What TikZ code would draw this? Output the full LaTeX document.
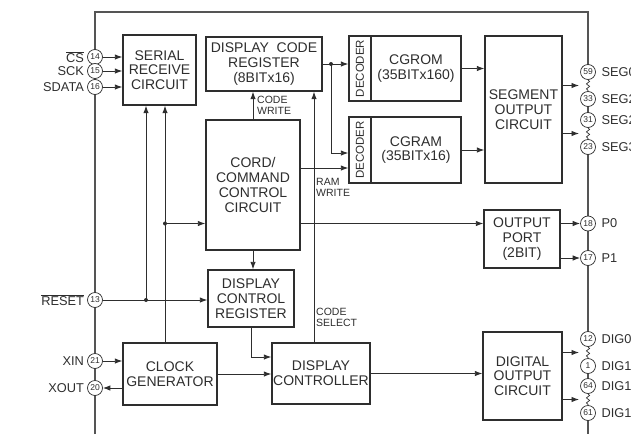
\documentclass[tikz,border=0pt]{standalone}
\usepackage{fontspec}
\setmainfont{Liberation Sans}
\usetikzlibrary{arrows.meta,positioning,calc,decorations.pathmorphing,backgrounds}
\definecolor{ink}{HTML}{2E2E2E}
\definecolor{framegray}{HTML}{555555}
\tikzset{
  blk/.style={draw=ink, line width=1.4pt, fill=white, align=center, inner sep=0pt, text=ink, font=\fontsize{14}{14.8}\selectfont},
  dec/.style={blk, minimum width=22pt, font=\fontsize{11.5}{12}\selectfont},
  ar/.style={-{Latex[length=7.5pt,width=5.5pt]}, line width=.9pt, draw=ink},
  pinc/.style={circle, draw=ink, line width=.7pt, fill=white, minimum size=15pt, inner sep=0pt, text=ink, font=\fontsize{8.5}{8.5}\selectfont},
  pinlbl/.style={text=ink, inner sep=1pt, font=\fontsize{12.8}{13}\selectfont},
  lbl/.style={text=ink, align=left, inner sep=0pt, font=\fontsize{10.5}{11}\selectfont},
  frm/.style={draw=framegray, line width=2pt},
  brk/.style={draw=ink, line width=.7pt, decorate, decoration={snake, amplitude=1.6pt, segment length=5pt}},
}

\begin{document}
\begin{tikzpicture}[x=1pt,y=-1pt]
  \useasboundingbox (0,0) rectangle (631,434);
  % pins on the package edge
  \foreach \n/\y/\t in {14/57/{$\overline{\hbox{CS}}$}, 15/71/SCK, 16/87/SDATA, 13/300/{$\overline{\hbox{RESET}}$}, 21/361/XIN, 20/388/XOUT}{
    \node[pinc] (p\n) at (95,\y) {\n};
    \node[pinlbl, left=2pt of p\n] (t\n) {\t};
  }
  \foreach \n/\y/\t in {59/72/SEG0, 33/99/SEG2, 31/120/SEG2, 23/147/SEG3, 18/223.5/P0, 17/258/P1, 12/339/DIG0, 1/366/DIG1, 64/386/DIG1, 61/413/DIG1}{
    \node[pinc] (p\n) at (588,\y) {\n};
    \node[pinlbl, right=4.5pt of p\n] (t\n) {\t};
  }
  \begin{scope}[on background layer]
    \draw[frm] (95,434) -- (95,12) -- (588,12) -- (p59.center);
    \draw[frm] (p33.center) -- (p31.center);
    \draw[frm] (p23.center) -- (p12.center);
    \draw[frm] (p1.center) -- (p64.center);
    \draw[frm] (p61.center) -- (588,434);
  \end{scope}
  \draw[brk] (p59.south) -- (p33.north);
  \draw[brk] (p31.south) -- (p23.north);
  \draw[brk] (p12.south) -- (p1.north);
  \draw[brk] (p64.south) -- (p61.north);

  % blocks
  \node[blk, minimum width=73pt, minimum height=70pt] (src) at (159.5,70) {SERIAL\\RECEIVE\\CIRCUIT};
  \node[blk, minimum width=116pt, minimum height=54pt] (dcr) at (264,64) {DISPLAY\ \ CODE\\REGISTER\\(8BITx16)};
  \node[dec, minimum height=65pt] (romdec) at (360,68.5) {\rotatebox{90}{DECODER}};
  \node[blk, minimum width=90pt, minimum height=65pt] (rom) at (416,68.5) {CGROM\\(35BITx160)};
  \node[dec, minimum height=66pt] (ramdec) at (360,150) {\rotatebox{90}{DECODER}};
  \node[blk, minimum width=90pt, minimum height=66pt] (ram) at (416,150) {CGRAM\\(35BITx16)};
  \node[blk, minimum width=77pt, minimum height=147pt] (seg) at (523.5,109.5) {SEGMENT\\OUTPUT\\CIRCUIT};
  \node[blk, minimum width=94pt, minimum height=130pt] (ccc) at (253,185) {CORD/\\COMMAND\\CONTROL\\CIRCUIT};
  \node[blk, minimum width=76pt, minimum height=58pt] (opt) at (522,239) {OUTPUT\\PORT\\(2BIT)};
  \node[blk, minimum width=86pt, minimum height=57pt] (dcreg) at (251,298.5) {DISPLAY\\CONTROL\\REGISTER};
  \node[blk, minimum width=94pt, minimum height=62pt] (clk) at (170,374) {CLOCK\\GENERATOR};
  \node[blk, minimum width=98pt, minimum height=61pt] (dctl) at (321,373.5) {DISPLAY\\CONTROLLER};
  \node[blk, minimum width=79pt, minimum height=88pt] (dig) at (522.5,376) {DIGITAL\\OUTPUT\\CIRCUIT};

  \node[lbl, anchor=west] (cwr) at (257,105) {CODE\\WRITE};
  \node[lbl, anchor=west] (rwr) at (316,187) {RAM\\WRITE};
  \node[lbl, anchor=west] (csel) at (316,317) {CODE\\SELECT};

  % branch points
  \coordinate (j1) at (146,300);
  \coordinate (j2) at (165,223.5);
  \coordinate (j3) at (331,64);
  \coordinate (s1) at ($(p59)!.5!(p33)$);
  \coordinate (s2) at ($(p31)!.5!(p23)$);
  \coordinate (s3) at ($(p12)!.5!(p1)$);
  \coordinate (s4) at ($(p64)!.5!(p61)$);

  % connections
  \foreach \n in {14,15,16}
    \draw[ar] (p\n.east) -- (p\n -| src.west);
  \draw[ar] (p13.east) -- (p13 -| dcreg.west);
  \draw[ar] (j1) -- (j1 |- src.south);
  \draw[ar] (clk.north -| j2) -- (j2 |- src.south);
  \draw[ar] (j2) -- (j2 -| ccc.west);
  \draw[ar] (ccc.east |- j2) -- (j2 -| opt.west);
  \draw[ar] (p21.east) -- (p21 -| clk.west);
  \draw[ar] (p20 -| clk.west) -- (p20.east);
  \draw[ar] (clk) -- (clk -| dctl.west);
  \draw[ar] (dcreg.south) |- ([yshift=16.5pt]dctl.west);
  \draw[ar] (dctl) -- (dctl -| dig.west);
  \draw[ar] (ccc.south) -- (ccc.south |- dcreg.north);
  \draw[ar] (ccc.north) -- (ccc.north |- dcr.south);
  \draw[ar] ([xshift=-7pt]dctl.north) -- ([xshift=-7pt]dctl.north |- dcr.south);
  \draw[ar] (dcr.east) -- (dcr.east -| romdec.west);
  \draw[ar] (j3) |- ([yshift=-3pt]ramdec.west);
  \draw[ar] ([yshift=-18pt]ramdec.west -| ccc.east) -- ([yshift=-18pt]ramdec.west);
  \draw[ar] (rom) -- (rom -| seg.west);
  \draw[ar] (ram) -- (ram -| seg.west);
  \draw[ar] (p18 -| opt.east) -- (p18.west);
  \draw[ar] (p17 -| opt.east) -- (p17.west);
  \foreach \s/\b in {s1/seg, s2/seg, s3/dig, s4/dig}
    \draw[ar] (\s -| \b.east) -- ([xshift=-9pt]\s);
  \foreach \j in {j1,j2,j3}
    \fill[ink] (\j) circle (2pt);
\end{tikzpicture}
\end{document}
